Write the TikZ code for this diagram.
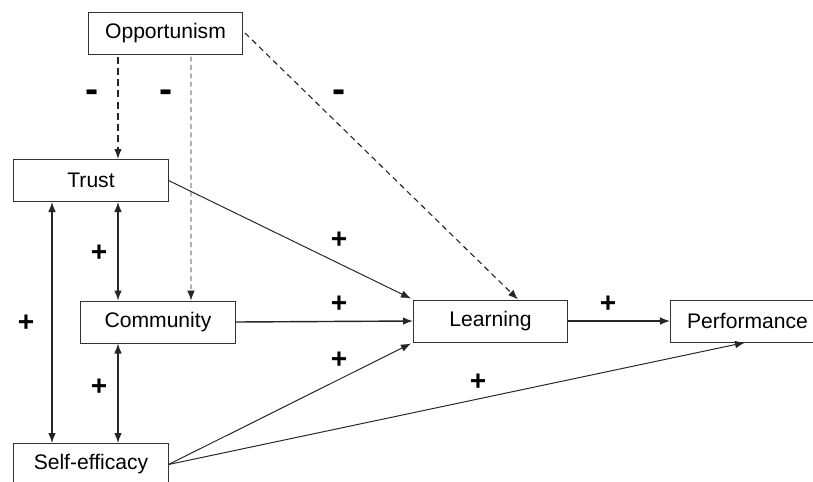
\documentclass[tikz,border=0pt]{standalone}
\usepackage{fontspec}
\setmainfont{Liberation Sans}
\usetikzlibrary{arrows.meta,calc}

\tikzset{
    var/.style={draw=black!80, line width=0.7pt, minimum width=3.85cm, minimum height=1.05cm, inner sep=0pt, font=\fontsize{15}{18}\selectfont},
    link/.style={draw=black!85, line width=0.8pt, -{Latex[length=2.5mm,width=1.9mm]}},
    both/.style={link, {Latex[length=2.5mm,width=1.9mm]}-{Latex[length=2.5mm,width=1.9mm]}},
    neg/.style={link, dashed},
    plus/.style={font=\fontsize{20}{20}\selectfont\bfseries},
    minus/.style={font=\fontsize{28}{28}\selectfont\bfseries}
}

\begin{document}
\begin{tikzpicture}[x=0.025cm, y=-0.025cm]
            \useasboundingbox (0,0) rectangle (813,481);
            \node[var] (Opp) at (165.5,33) {Opportunism};
            \node[var] (Trust) at (91,180.5) {Trust};
            \node[var] (Comm) at (158,322) {Community};
            \node[var] (Self) at (91,464.5) {Self-efficacy};
            \node[var] (Learn) at (490.5,321) {Learning};
            \node[var] (Perf) at (747.5,321) {Performance};
            \draw[neg, line width=1pt, dash pattern=on 5pt off 3pt] ($(Opp.south)+(-47.5,2)$) -- ($(Trust.north)+(27,0)$);
            \draw[neg, line width=0.6pt, dash pattern=on 3.5pt off 2.5pt] ($(Opp.south)+(25.5,2)$) -- ($(Comm.north)+(33,0)$);
            \draw[neg, dash pattern=on 4pt off 3pt] ($(Opp.east)+(2,0)$) -- ($(Learn.north)+(27.5,0)$);
            \draw[link, line width=0.7pt] (Trust.east) -- ($(Learn.north west)+(-2,-1)$);
            \draw[link, line width=1pt] (Comm.east) -- (Learn.west);
            \draw[link, line width=0.7pt] (Self.east) -- ($(Learn.south west)+(-2,1)$);
            \draw[link, line width=0.7pt] (Self.east) -- ($(Perf.south)+(-2.5,0)$);
            \draw[link, line width=1pt] (Learn.east) -- (Perf.west);
            \draw[both] ($(Trust.south)+(-39,0)$) -- ($(Self.north)+(-39,0)$);
            \draw[both] ($(Trust.south)+(27,0)$) -- ($(Comm.north)+(-40,0)$);
            \draw[both] ($(Comm.south)+(-40,0)$) -- ($(Self.north)+(27,0)$);
            \node[minus] (m1) at (92,96) {-};
            \node[minus] (m2) at (166,96) {-};
            \node[minus] (m3) at (339,96) {-};
            \node[plus] (p1) at (26,323) {+};
            \node[plus] (p2) at (99,253) {+};
            \node[plus] (p3) at (99,387) {+};
            \node[plus] (p4) at (339,240) {+};
            \node[plus] (p5) at (339,304) {+};
            \node[plus] (p6) at (339,360) {+};
            \node[plus] (p7) at (608,304) {+};
            \node[plus] (p8) at (478,382) {+};
        \end{tikzpicture}
\end{document}
